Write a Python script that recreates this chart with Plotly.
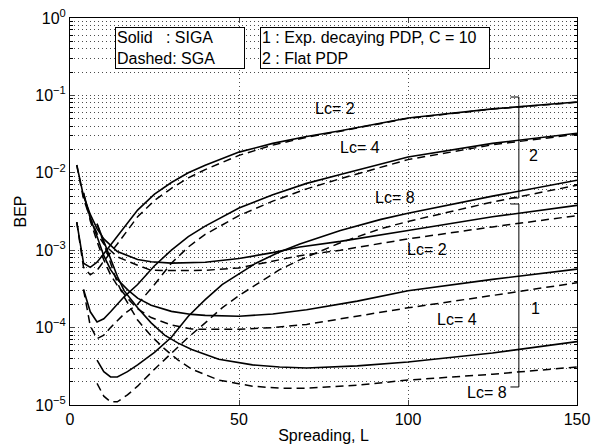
import plotly.graph_objects as go

# flat PDP (group 2)
L_FLAT2 = [2, 4, 6, 8, 10, 14, 20, 25, 30, 35, 40, 50, 60, 70, 80, 100, 125, 150]
FLAT2_SIGA = [2.3e-3, 6.8e-4, 6.0e-4, 7.0e-4, 9.0e-4, 1.5e-3, 3.3e-3, 5.3e-3, 7.5e-3, 1.0e-2,
              1.25e-2, 1.85e-2, 2.4e-2, 2.95e-2, 3.5e-2, 5.1e-2, 6.7e-2, 8.2e-2]
FLAT2_SGA = [2.3e-3, 6.0e-4, 4.8e-4, 5.5e-4, 7.2e-4, 1.2e-3, 2.7e-3, 4.4e-3, 6.3e-3, 8.6e-3,
             1.1e-2, 1.68e-2, 2.28e-2, 2.88e-2, 3.45e-2, 5.05e-2, 6.65e-2, 8.15e-2]

L_FLAT4 = [4, 6, 8, 10, 12, 16, 20, 25, 30, 35, 40, 50, 60, 70, 80, 100, 125, 150]
FLAT4_SIGA = [3.1e-4, 1.6e-4, 1.18e-4, 1.3e-4, 1.6e-4, 2.5e-4, 3.6e-4, 6.3e-4, 1.0e-3, 1.5e-3,
              2.05e-3, 3.5e-3, 5.2e-3, 7.3e-3, 9.5e-3, 1.6e-2, 2.4e-2, 3.25e-2]
FLAT4_SGA = [3.1e-4, 1.05e-4, 7.2e-5, 8.0e-5, 1.0e-4, 1.5e-4, 2.0e-4, 3.6e-4, 6.8e-4, 1.1e-3,
             1.6e-3, 2.8e-3, 4.3e-3, 6.2e-3, 8.4e-3, 1.48e-2, 2.3e-2, 3.15e-2]

L_FLAT8 = [8, 10, 12, 14, 17, 20, 25, 30, 35, 40, 45, 50, 55, 62, 68, 80, 92, 100, 125, 150]
FLAT8_SIGA = [3.8e-5, 2.7e-5, 2.3e-5, 2.3e-5, 2.7e-5, 3.3e-5, 4.8e-5, 7.5e-5, 1.4e-4, 2.3e-4,
              3.6e-4, 5.0e-4, 6.8e-4, 9.5e-4, 1.2e-3, 1.8e-3, 2.5e-3, 3.0e-3, 5.0e-3, 8.0e-3]
FLAT8_SGA = [1.9e-5, 1.3e-5, 1.1e-5, 1.1e-5, 1.35e-5, 1.75e-5, 2.9e-5, 4.6e-5, 7.5e-5, 1.15e-4,
             1.8e-4, 2.6e-4, 3.6e-4, 5.6e-4, 7.5e-4, 1.25e-3, 1.9e-3, 2.35e-3, 4.2e-3, 6.9e-3]

# exponentially decaying PDP, C = 10 (group 1)
L_EXP2 = [2, 4, 6, 8, 10, 14, 20, 24, 30, 40, 50, 60, 68, 80, 100, 125, 150]
EXP2_SIGA = [1.26e-2, 5.0e-3, 2.9e-3, 1.9e-3, 1.4e-3, 9.6e-4, 7.6e-4, 7.1e-4, 6.8e-4, 7.0e-4,
             7.8e-4, 9.3e-4, 1.1e-3, 1.3e-3, 1.8e-3, 2.7e-3, 3.8e-3]
EXP2_SGA = [1.26e-2, 4.6e-3, 2.6e-3, 1.65e-3, 1.2e-3, 8.2e-4, 6.4e-4, 5.5e-4, 5.45e-4, 5.5e-4,
            5.9e-4, 7.2e-4, 8.5e-4, 1.0e-3, 1.4e-3, 2.0e-3, 2.8e-3]

L_EXP4 = [4, 6, 8, 10, 12, 14, 17, 20, 24, 30, 36, 40, 50, 60, 70, 85, 100, 125, 150]
EXP4_SIGA = [5.5e-3, 2.6e-3, 1.5e-3, 8.5e-4, 5.6e-4, 4.2e-4, 3.1e-4, 2.4e-4, 1.95e-4, 1.62e-4,
             1.48e-4, 1.44e-4, 1.4e-4, 1.5e-4, 1.7e-4, 2.2e-4, 3.0e-4, 4.2e-4, 5.7e-4]
EXP4_SGA = [5.5e-3, 2.4e-3, 1.3e-3, 7.5e-4, 4.8e-4, 3.5e-4, 2.4e-4, 1.75e-4, 1.35e-4, 1.08e-4,
            9.6e-5, 9.5e-5, 9.5e-5, 1.0e-4, 1.1e-4, 1.4e-4, 1.8e-4, 2.6e-4, 3.8e-4]

L_EXP8 = [8, 10, 12, 14, 16, 20, 24, 28, 32, 36, 44, 54, 62, 70, 85, 100, 125, 150]
EXP8_SIGA = [2.2e-3, 1.3e-3, 7.5e-4, 4.6e-4, 3.0e-4, 1.8e-4, 1.15e-4, 8.0e-5, 6.3e-5, 5.2e-5,
             3.9e-5, 3.3e-5, 3.1e-5, 3.0e-5, 3.2e-5, 3.6e-5, 4.7e-5, 6.6e-5]
EXP8_SGA = [2.2e-3, 1.2e-3, 6.5e-4, 3.8e-4, 2.5e-4, 1.25e-4, 7.8e-5, 5.3e-5, 3.8e-5, 2.9e-5,
            2.1e-5, 1.75e-5, 1.65e-5, 1.65e-5, 1.8e-5, 2.1e-5, 2.5e-5, 3.1e-5]

Y_TICKS = [1e-5, 1e-4, 1e-3, 1e-2, 1e-1, 1]
Y_TICKTEXT = ["10<sup>−5</sup>", "10<sup>−4</sup>", "10<sup>−3</sup>",
              "10<sup>−2</sup>", "10<sup>−1</sup>", "10<sup>0</sup>"]
X_TICKS = [0, 50, 100, 150]

FONT = "Liberation Sans, Arial, Helvetica, sans-serif"
DASH = "8px,5px"
GRID = dict(showgrid=True, gridcolor="rgba(0,0,0,0.7)", griddash="1px,3px", gridwidth=1)

curves = [
    (L_FLAT2, FLAT2_SIGA, FLAT2_SGA),
    (L_FLAT4, FLAT4_SIGA, FLAT4_SGA),
    (L_FLAT8, FLAT8_SIGA, FLAT8_SGA),
    (L_EXP2, EXP2_SIGA, EXP2_SGA),
    (L_EXP4, EXP4_SIGA, EXP4_SGA),
    (L_EXP8, EXP8_SIGA, EXP8_SGA),
]

fig = go.Figure()
for L, siga, sga in curves:
    fig.add_trace(go.Scatter(x=L, y=siga, mode="lines",
                             line=dict(color="black", width=1.6)))
    fig.add_trace(go.Scatter(x=L, y=sga, mode="lines",
                             line=dict(color="black", width=1.5, dash=DASH)))

minor_y = [k * 10.0 ** e for e in range(-5, 0) for k in range(2, 10)]

# curve labels (annotations on log axis take log10 y)
labels = [
    ("Lc= 2", 78.4, -1.163), ("Lc= 4", 85.8, -1.667), ("Lc= 8", 96.2, -2.313),
    ("Lc= 2", 105.6, -2.985), ("Lc= 4", 114.5, -3.889), ("Lc= 8", 123.4, -4.832),
    ("2", 137.0, -1.77), ("1", 137.6, -3.747),
]
annotations = [
    dict(x=x, y=y, xref="x", yref="y", text=t, showarrow=False,
         font=dict(size=16, color="black", family=FONT))
    for t, x, y in labels
]
annotations += [
    dict(x=0.089, y=0.977, xref="paper", yref="paper", xanchor="left", yanchor="top",
         text="Solid\u00a0\u00a0\u00a0: SIGA<br>Dashed: SGA", align="left", showarrow=False,
         width=126, bgcolor="white", bordercolor="black", borderwidth=1, borderpad=1,
         font=dict(size=16, color="black", family=FONT)),
    dict(x=0.375, y=0.977, xref="paper", yref="paper", xanchor="left", yanchor="top",
         text="1 : Exp. decaying PDP, C = 10<br>2 : Flat PDP", align="left", showarrow=False,
         width=226, bgcolor="white", bordercolor="black", borderwidth=1, borderpad=1,
         font=dict(size=16, color="black", family=FONT)),
]

# brackets grouping the curves
bx, tx = 132.8, 130.3
shapes = []
for top, bot in [(10 ** -1.021, 10 ** -2.326), (10 ** -2.403, 10 ** -4.767)]:
    for x0, y0, x1, y1 in [(bx, top, bx, bot), (tx, top, bx, top), (tx, bot, bx, bot)]:
        shapes.append(dict(type="line", xref="x", yref="y", x0=x0, y0=y0, x1=x1, y1=y1,
                           line=dict(color="black", width=1)))

# page body adds an 8px offset, so the figure is sized to fit the window
fig.update_layout(
    width=591, height=439,
    margin=dict(l=62, r=22, t=10, b=42),
    paper_bgcolor="white", plot_bgcolor="white",
    showlegend=False,
    font=dict(family=FONT, size=16, color="black"),
    annotations=annotations,
    shapes=shapes,
    xaxis=dict(
        range=[0, 150], tickvals=X_TICKS, ticks="inside", ticklen=5, automargin=False,
        ticklabeloverflow="allow",
        showline=True, linecolor="black", linewidth=1, mirror="ticks",
        zeroline=False,
        title=dict(text="Spreading, L", standoff=2, font=dict(size=16)),
        tickfont=dict(size=16),
        **GRID,
    ),
    yaxis=dict(
        type="log", range=[-5, 0], tickvals=Y_TICKS, ticktext=Y_TICKTEXT,
        ticks="inside", ticklen=5, automargin=False, ticklabeloverflow="allow",
        showline=True, linecolor="black", linewidth=1, mirror="ticks",
        zeroline=False,
        minor=dict(tickmode="array", tickvals=minor_y, ticks="inside", ticklen=3,
                   tickcolor="black", **GRID),
        title=dict(text="BEP", standoff=4, font=dict(size=16)),
        tickfont=dict(size=16),
        **GRID,
    ),
)

fig.write_html("out.html")
